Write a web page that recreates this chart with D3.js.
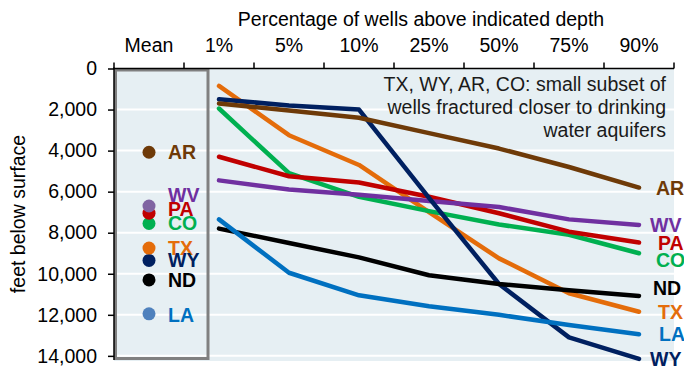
<!DOCTYPE html>
<html>
<head>
<meta charset="utf-8">
<script src="https://cdn.jsdelivr.net/npm/d3@7"></script>
<style>
  html, body { margin: 0; padding: 0; background: #ffffff; }
  svg { display: block; font-family: "Liberation Sans", Arial, sans-serif; }
</style>
</head>
<body>
<svg id="chart" width="684" height="367"></svg>
<script>
// ---- data ----
const categories = ["Mean", "1%", "5%", "10%", "25%", "50%", "75%", "90%"];
const percentiles = ["1%", "5%", "10%", "25%", "50%", "75%", "90%"];
const states = ["AR", "WV", "PA", "CO", "TX", "WY", "ND", "LA"];
const meanDepth = [4080, 6700, 7050, 7550, 8750, 9350, 10300, 11950];
const depthAR = [1700, 2050, 2400, 3150, 3900, 4800, 5800];
const depthWV = [5450, 5900, 6150, 6450, 6750, 7350, 7620];
const depthPA = [4300, 5250, 5550, 6250, 7050, 7950, 8480];
const depthCO = [1950, 5100, 6250, 6950, 7600, 8100, 9000];
const depthTX = [850, 3250, 4700, 7000, 9250, 10950, 11850];
const depthWY = [1500, 1800, 2000, 6300, 10500, 13100, 14150];
const depthND = [7800, 8500, 9200, 10070, 10500, 10800, 11080];
const depthLA = [7350, 9950, 11050, 11580, 12000, 12500, 12950];
const yTicks = [0, 2000, 4000, 6000, 8000, 10000, 12000, 14000];
const titleText = "Percentage of wells above indicated depth";
const yTitle = "feet below surface";
const noteLines = ["TX, WY, AR, CO: small subset of", "wells fractured closer to drinking", "water aquifers"];

const seriesByState = { AR: depthAR, WV: depthWV, PA: depthPA, CO: depthCO, TX: depthTX, WY: depthWY, ND: depthND, LA: depthLA };

// ---- styles ----
const lineColor = { AR: "#6E3A08", WV: "#7030A0", PA: "#C00000", CO: "#00B050", TX: "#E46C0A", WY: "#002060", ND: "#000000", LA: "#0070C0" };
const dotColor = { AR: "#6E3A08", WV: "#8064A2", PA: "#C00000", CO: "#00B050", TX: "#E46C0A", WY: "#002060", ND: "#000000", LA: "#4F81BD" };
const rightLabelDy = { AR: 0, WV: 0, PA: 0, CO: 7, TX: 0, WY: 0, ND: -8, LA: 0 };
const rightLabelDx = { AR: 0, WV: -6, PA: 2, CO: 0, TX: 2, WY: -6, ND: -3, LA: 3 };
const meanLabelDy = { AR: 0, WV: -11, PA: -4, CO: 0, TX: 0, WY: 0, ND: 0, LA: 1 };
const drawOrder = ["TX", "CO", "PA", "WV", "WY", "ND", "LA", "AR"];
const dotOrder = ["AR", "LA", "ND", "WY", "TX", "CO", "PA", "WV"];
const FONT = 19.5;
const LABEL_FONT = 19.5;

const svg = d3.select("#chart");

const x = d3.scaleBand().domain(categories).range([114, 674]).padding(0);
const y = d3.scaleLinear().domain([0, 14250]).range([68.5, 361]);
const xc = c => x(c) + x.bandwidth() / 2;

// plot background
svg.append("rect")
  .attr("x", x.range()[0]).attr("y", y(0))
  .attr("width", x.range()[1] - x.range()[0])
  .attr("height", y(14250) - y(0))
  .attr("fill", "#E6EFF3");

// gridlines
svg.append("g").selectAll("line").data(yTicks.slice(1)).join("line")
  .attr("x1", x.range()[0]).attr("x2", x.range()[1])
  .attr("y1", d => y(d)).attr("y2", d => y(d))
  .attr("stroke", "#ffffff").attr("stroke-width", 2);

// mean box
svg.append("rect")
  .attr("x", x("Mean") + 1.5).attr("y", y(0) + 1.5)
  .attr("width", x.bandwidth() + 22.5)
  .attr("height", y(14250) - y(0) - 4)
  .attr("fill", "none")
  .attr("stroke", "#808080").attr("stroke-width", 3);

// lines
const line = d3.line().x(d => xc(d.p)).y(d => y(d.v));
svg.append("g").selectAll("path").data(drawOrder).join("path")
  .attr("d", s => line(percentiles.map((p, i) => ({ p, v: seriesByState[s][i] }))))
  .attr("fill", "none")
  .attr("stroke", s => lineColor[s])
  .attr("stroke-width", 4.5)
  .attr("stroke-linecap", "round")
  .attr("stroke-linejoin", "round");

// mean dots
svg.append("g").selectAll("circle").data(dotOrder).join("circle")
  .attr("cx", xc("Mean"))
  .attr("cy", s => y(meanDepth[states.indexOf(s)]))
  .attr("r", 6.5)
  .attr("fill", s => dotColor[s]);

// mean labels
svg.append("g").selectAll("text").data(states).join("text")
  .attr("x", xc("Mean") + 19)
  .attr("y", (s, i) => y(meanDepth[i]) + meanLabelDy[s])
  .attr("dy", "0.36em")
  .attr("fill", s => lineColor[s])
  .attr("font-weight", "bold")
  .attr("font-size", LABEL_FONT)
  .text(s => s);

// right labels
svg.append("g").selectAll("text").data(states).join("text")
  .attr("x", s => xc("90%") + 17 + rightLabelDx[s])
  .attr("y", s => y(seriesByState[s][percentiles.length - 1]) + rightLabelDy[s])
  .attr("dy", "0.36em")
  .attr("fill", s => lineColor[s])
  .attr("font-weight", "bold")
  .attr("font-size", LABEL_FONT)
  .text(s => s);

// top axis
const topAxis = svg.append("g")
  .attr("transform", `translate(0,${y(0)})`)
  .call(d3.axisTop(x).tickSize(0).tickPadding(17));
topAxis.select(".domain").remove();
topAxis.selectAll("text").attr("font-size", FONT).attr("font-family", null).attr("fill", "#000");
svg.append("line")
  .attr("x1", x.range()[0] - 1).attr("x2", x.range()[1])
  .attr("y1", y(0)).attr("y2", y(0))
  .attr("stroke", "#000").attr("stroke-width", 1.5);
svg.append("g").selectAll("line").data(categories.map(c => x(c)).concat([x.range()[1]])).join("line")
  .attr("x1", d => d).attr("x2", d => d)
  .attr("y1", y(0)).attr("y2", y(0) - 6)
  .attr("stroke", "#000").attr("stroke-width", 1.5);

// left axis
const leftAxis = svg.append("g")
  .attr("transform", `translate(${x.range()[0]},0)`)
  .call(d3.axisLeft(y).tickValues(yTicks).tickFormat(d3.format(",")).tickSize(6).tickPadding(11));
leftAxis.select(".domain").remove();
leftAxis.selectAll(".tick line").attr("stroke", "#000").attr("stroke-width", 1.5);
leftAxis.selectAll("text").attr("font-size", FONT).attr("font-family", null).attr("fill", "#000");
svg.append("line")
  .attr("x1", x.range()[0]).attr("x2", x.range()[0])
  .attr("y1", y(0) - 1).attr("y2", y(14250) - 1)
  .attr("stroke", "#000").attr("stroke-width", 1.5);

// titles
svg.append("text")
  .attr("x", 421).attr("y", 25.5)
  .attr("text-anchor", "middle")
  .attr("font-size", FONT)
  .text(titleText);

svg.append("text")
  .attr("transform", "translate(25,214) rotate(-90)")
  .attr("text-anchor", "middle")
  .attr("font-size", FONT)
  .text(yTitle);

// annotation
svg.append("g").selectAll("text").data(noteLines).join("text")
  .attr("x", 666)
  .attr("y", (d, i) => 90.7 + i * 23)
  .attr("text-anchor", "end")
  .attr("font-size", FONT)
  .attr("fill", "#1a1a1a")
  .text(d => d);
</script>
</body>
</html>
